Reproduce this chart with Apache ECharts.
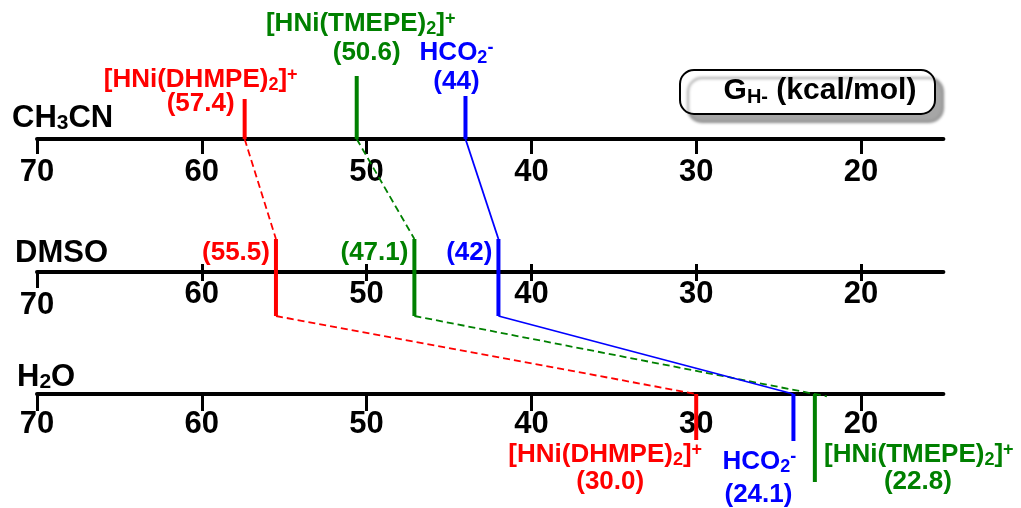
<!DOCTYPE html>
<html>
<head>
<meta charset="utf-8">
<script src="https://cdn.jsdelivr.net/npm/echarts@6/dist/echarts.min.js"></script>
<style>
  html, body { margin: 0; padding: 0; background: #ffffff; }
  #main { width: 1021px; height: 508px; }
</style>
</head>
<body>
<div id="main"></div>
<script>
// Hydride donor ability G(H-) in kcal/mol, per solvent: [CH3CN, DMSO, H2O]
const solvents = ['CH3CN', 'DMSO', 'H2O'];
const tickValues = [70, 60, 50, 40, 30, 20];
const dhmpe = [57.4, 55.5, 30.0];
const tmepe = [50.6, 47.1, 22.8];
const formate = [44, 42, 24.1];
const dhmpeDigits = [1, 1, 1];
const tmepeDigits = [1, 1, 1];
const formateDigits = [0, 0, 1];

// ---- layout -------------------------------------------------------------
const FONT = '"Liberation Sans", Arial, Helvetica, sans-serif';
const X_MIN = 15, X_MAX = 70;
const PLOT_LEFT = 37, PLOT_WIDTH = 906.4;
const AXIS_Y = [139, 272, 394];          // pixel row of each solvent axis
const RED = '#ff0000', GREEN = '#008000', BLUE = '#0000ff';
const LABEL_SIZE = 26;
const TICK_SIZE = 31;

const species = [
  {
    name: '[HNi(DHMPE){sub|2}]{sup|+}', values: dhmpe, digits: dhmpeDigits, color: RED, dashed: true,
    top0: 99, bottom2: 440,
    nameOff0: [-44, 80], valOff0: [-44, 104],
    nameOff2: [-91, 455], valOff2: [-86, 482], overshoot: 1
  },
  {
    name: '[HNi(TMEPE){sub|2}]{sup|+}', values: tmepe, digits: tmepeDigits, color: GREEN, dashed: true,
    top0: 76, bottom2: 482,
    nameOff0: [4, 24], valOff0: [10, 53],
    nameOff2: [104, 455], valOff2: [103, 482], overshoot: 1.03
  },
  {
    name: 'HCO{sub|2}{sup|-}', values: formate, digits: formateDigits, color: BLUE, dashed: false,
    top0: 96, bottom2: 441,
    nameOff0: [-9, 53], valOff0: [-9, 82],
    nameOff2: [-34, 462], valOff2: [-35, 495], overshoot: 1
  }
];
const DMSO_TOP = 239, DMSO_BOTTOM = 316;

const labelRich = function (size) {
  const small = Math.round(size * 0.7);
  return {
    sub: { fontSize: small, fontWeight: 'bold', fontFamily: FONT, lineHeight: 10, verticalAlign: 'bottom' },
    sup: { fontSize: small, fontWeight: 'bold', fontFamily: FONT, lineHeight: 10, verticalAlign: 'top' }
  };
};

function textEl(x, y, text, color, size, align) {
  return {
    type: 'text',
    x: x, y: y,
    style: {
      text: text,
      fill: color,
      fontSize: size,
      fontWeight: 'bold',
      fontFamily: FONT,
      lineHeight: size + 2,
      align: align || 'center',
      verticalAlign: 'middle',
      rich: labelRich(size)
    }
  };
}

function fmt(v, d) { return '(' + v.toFixed(d) + ')'; }

// marks, connectors and value labels for one species
function renderSpecies(sp) {
  return function (params, api) {
    const xs = [0, 1, 2].map(function (i) { return api.coord([api.value(i), 0])[0]; });
    const vals = [api.value(0), api.value(1), api.value(2)];
    const lineStyle = { stroke: sp.color, lineWidth: 1.8, lineDash: sp.dashed ? [7, 4] : null };
    const markStyle = { stroke: sp.color, lineWidth: 4 };
    const ex = xs[1] + (xs[2] - xs[1]) * sp.overshoot;
    const ey = DMSO_BOTTOM + (AXIS_Y[2] - DMSO_BOTTOM) * sp.overshoot;
    const children = [
      // connectors between solvents
      { type: 'line', shape: { x1: xs[0], y1: AXIS_Y[0], x2: xs[1], y2: DMSO_TOP }, style: lineStyle },
      { type: 'line', shape: { x1: xs[1], y1: DMSO_BOTTOM, x2: ex, y2: ey }, style: lineStyle },
      // vertical marks
      { type: 'line', shape: { x1: xs[0], y1: sp.top0, x2: xs[0], y2: AXIS_Y[0] }, style: markStyle },
      { type: 'line', shape: { x1: xs[1], y1: DMSO_TOP, x2: xs[1], y2: DMSO_BOTTOM }, style: markStyle },
      { type: 'line', shape: { x1: xs[2], y1: AXIS_Y[2], x2: xs[2], y2: sp.bottom2 }, style: markStyle },
      // labels
      textEl(xs[0] + sp.nameOff0[0], sp.nameOff0[1], sp.name, sp.color, LABEL_SIZE),
      textEl(xs[0] + sp.valOff0[0], sp.valOff0[1], fmt(vals[0], sp.digits[0]), sp.color, LABEL_SIZE),
      textEl(xs[1] - 6, 253, fmt(vals[1], sp.digits[1]), sp.color, LABEL_SIZE, 'right'),
      textEl(xs[2] + sp.nameOff2[0], sp.nameOff2[1], sp.name, sp.color, LABEL_SIZE),
      textEl(xs[2] + sp.valOff2[0], sp.valOff2[1], fmt(vals[2], sp.digits[2]), sp.color, LABEL_SIZE)
    ];
    return { type: 'group', children: children };
  };
}

// ---- axes -----------------------------------------------------------------
const baseX = {
  type: 'value', min: X_MIN, max: X_MAX, inverse: true, position: 'bottom',
  splitLine: { show: false }
};
const tickLabel = function (margin, values) {
  return {
    show: true, customValues: values, margin: margin,
    color: '#000', fontSize: TICK_SIZE, fontWeight: 'bold', fontFamily: FONT
  };
};
const axisLine = { show: true, onZero: false, lineStyle: { color: '#000', width: 4 } };
const noLine = { show: false, onZero: false };

const grids = AXIS_Y.map(function (y) {
  return { left: PLOT_LEFT, width: PLOT_WIDTH, top: y - 20, height: 20 };
});
grids.push({ left: PLOT_LEFT, width: PLOT_WIDTH, top: 0, height: 508 });

const inner = tickValues.slice(1);
const xAxes = [
  // CH3CN
  Object.assign({}, baseX, {
    gridIndex: 0, axisLine: axisLine,
    axisTick: { show: true, customValues: tickValues, length: 15, lineStyle: { color: '#000', width: 3 } },
    axisLabel: tickLabel(18, tickValues)
  }),
  // DMSO: ticks cross the line, 70 drawn separately
  Object.assign({}, baseX, {
    gridIndex: 1, axisLine: axisLine,
    axisTick: { show: true, customValues: inner, length: 9, lineStyle: { color: '#000', width: 3 } },
    axisLabel: tickLabel(7, inner)
  }),
  Object.assign({}, baseX, {
    gridIndex: 1, axisLine: noLine,
    axisTick: { show: true, inside: true, customValues: inner, length: 8, lineStyle: { color: '#000', width: 3 } },
    axisLabel: { show: false }
  }),
  Object.assign({}, baseX, {
    gridIndex: 1, axisLine: noLine,
    axisTick: { show: true, customValues: [70], length: 16, lineStyle: { color: '#000', width: 3 } },
    axisLabel: tickLabel(18, [70])
  }),
  // H2O
  Object.assign({}, baseX, {
    gridIndex: 2, axisLine: axisLine,
    axisTick: { show: true, customValues: tickValues, length: 17, lineStyle: { color: '#000', width: 3 } },
    axisLabel: tickLabel(15, tickValues)
  }),
  // overlay used by the marks
  Object.assign({}, baseX, {
    gridIndex: 3, show: false
  })
];

const yAxes = [0, 1, 2].map(function (i) {
  return { type: 'value', gridIndex: i, show: false, min: 0, max: 1 };
});
yAxes.push({ type: 'value', gridIndex: 3, show: false, min: 0, max: 508, inverse: true });

const series = species.map(function (sp) {
  return {
    type: 'custom',
    xAxisIndex: 5, yAxisIndex: 3,
    coordinateSystem: 'cartesian2d',
    silent: true,
    clip: false,
    data: [sp.values],
    encode: { x: [0, 1, 2] },
    renderItem: renderSpecies(sp)
  };
});

// ---- solvent names and unit box -------------------------------------------
const solventText = ['CH{s|3}CN', 'DMSO', 'H{s|2}O'];
const solventY = [118, 253, 377];
const solventX = [12, 15, 17];
const graphics = solvents.map(function (s, i) {
  return {
    type: 'text', x: solventX[i], y: solventY[i],
    style: {
      text: solventText[i], fill: '#000', fontSize: 31, fontWeight: 'bold', fontFamily: FONT,
      lineHeight: 32, align: 'left', verticalAlign: 'middle',
      rich: { s: { fontSize: 21, fontWeight: 'bold', fontFamily: FONT, lineHeight: 12, verticalAlign: 'bottom' } }
    }
  };
});
graphics.push({
  type: 'rect', shape: { x: 680, y: 70, width: 255, height: 44, r: 14 },
  style: {
    fill: '#fff', stroke: '#000', lineWidth: 2,
    shadowColor: 'rgba(0,0,0,0.35)', shadowOffsetX: 8, shadowOffsetY: 8, shadowBlur: 3
  }
});
graphics.push({
  type: 'text', x: 820, y: 91,
  style: {
    text: 'G{s|H-} (kcal/mol)', fill: '#000', fontSize: 30, fontWeight: 'bold', fontFamily: FONT,
    align: 'center', verticalAlign: 'middle', lineHeight: 32,
    rich: { s: { fontSize: 20, fontWeight: 'bold', fontFamily: FONT, lineHeight: 12, verticalAlign: 'bottom' } }
  }
});

const chart = echarts.init(document.getElementById('main'), null, { renderer: 'canvas' });
chart.setOption({
  animation: false,
  backgroundColor: '#ffffff',
  grid: grids,
  xAxis: xAxes,
  yAxis: yAxes,
  series: series,
  graphic: graphics
});
</script>
</body>
</html>
